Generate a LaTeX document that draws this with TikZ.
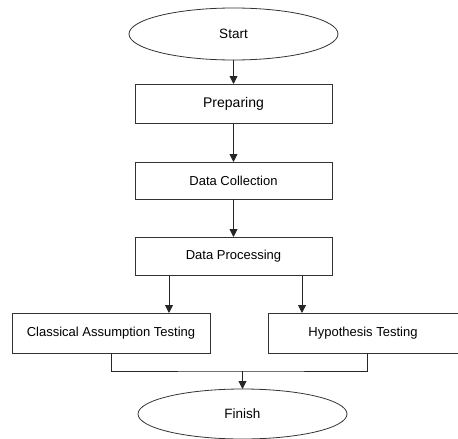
\documentclass[tikz,border=0pt]{standalone}
\usepackage{fontspec}
\setmainfont{Liberation Sans}
\usetikzlibrary{shapes.geometric,arrows.meta}
\begin{document}
\begin{tikzpicture}[x=1pt,y=-1pt,
  every node/.style={inner sep=0pt,outer sep=0pt},
  box/.style={draw=black!80,line width=0.8pt,rectangle,text=black,font=\fontsize{13}{15}\selectfont},
  oval/.style={draw=black!80,line width=0.8pt,ellipse,text=black,font=\fontsize{13.5}{16}\selectfont},
  conn/.style={draw=black!85,line width=0.9pt},
  arr/.style={conn,-{Triangle[length=8pt,width=8pt]}}]
\useasboundingbox (0,0) rectangle (458,439);
\node[oval,minimum width=209pt,minimum height=52pt] (start) at (233.5,34) {Start};
\node[box,minimum width=197pt,minimum height=39pt,font=\fontsize{14}{16}\selectfont] (prep) at (233.5,103.5) {Preparing};
\node[box,minimum width=197pt,minimum height=37pt] (coll) at (233.5,180.5) {Data Collection};
\node[box,minimum width=197pt,minimum height=38pt] (proc) at (233.5,256) {Data Processing};
\node[box,minimum width=198pt,minimum height=40pt] (cat) at (111,333) {Classical Assumption Testing};
\node[box,minimum width=190pt,minimum height=40pt] (hyp) at (363,333) {Hypothesis Testing};
\node[oval,minimum width=209pt,minimum height=50pt] (fin) at (242.5,414) {Finish};
\coordinate (j) at (242.5,371);
\draw[arr] (start) -- (prep);
\draw[arr] (prep) -- (coll);
\draw[arr] (coll) -- (proc);
\draw[arr] (proc.south -| 169,0) -- (cat.north -| 169,0);
\draw[arr] (proc.south -| 302,0) -- (hyp.north -| 302,0);
\draw[conn] (cat.south -| 111,0) |- (j) -| (hyp.south -| 367,0);
\draw[arr] (j) -- (fin);
\end{tikzpicture}
\end{document}
